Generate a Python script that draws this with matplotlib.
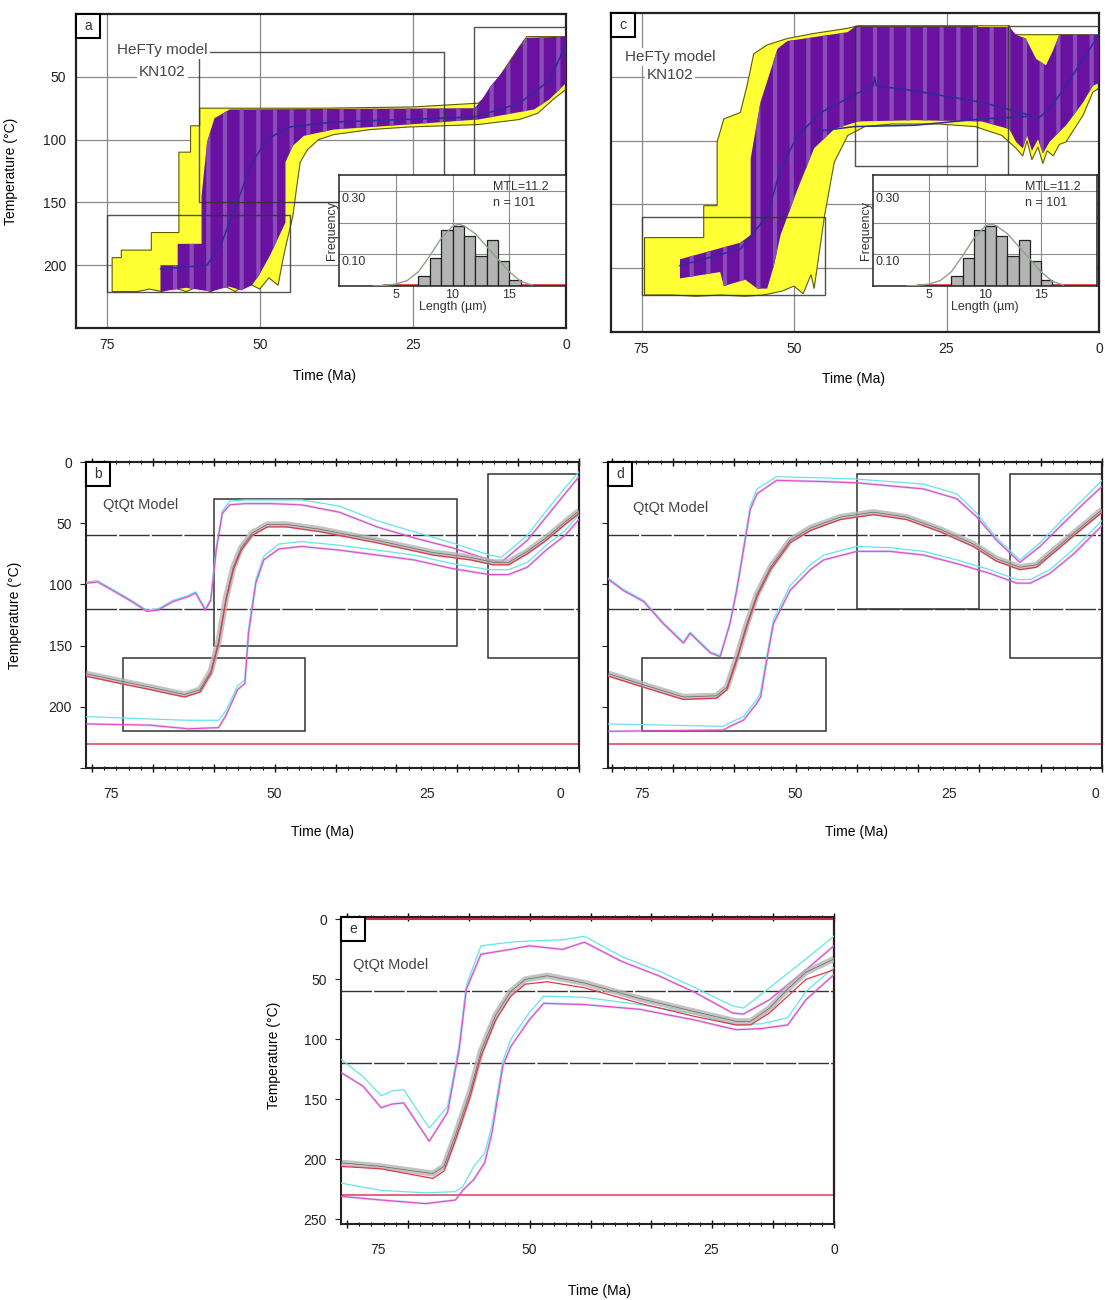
import numpy as np
import matplotlib
matplotlib.use("Agg")
import matplotlib.pyplot as plt
from matplotlib.patches import Rectangle
from matplotlib.ticker import MultipleLocator

plt.rcParams['font.family'] = ['Liberation Sans', 'DejaVu Sans']
plt.rcParams['hatch.linewidth'] = 3.0

# ------------------------------------------------------------------ data
# HeFTy panel a
a_yel_up_t = [74.1, 72.6, 72.6, 67.7, 67.7, 63.2, 63.2, 61.3, 61.3, 59.8, 59.8, 40, 25, 14.3, 12.4, 10.6, 7.6, 6.4, 0]
a_yel_up_T = [194, 194, 188, 188, 174, 174, 110, 110, 89, 89, 75, 75, 74, 71, 63, 48, 26, 18, 18]
a_yel_lo_t = [74.1, 70, 68, 66, 64, 62, 60, 58, 56, 54, 52, 50, 48.5, 47, 46.4, 45.8, 44.6, 44.0, 43.4, 42.2, 40.4, 37.9, 31.9, 25.8, 14.3, 7.6, 4.6, 2.1, 0]
a_yel_lo_T = [221, 221, 219, 221, 218, 221, 217, 221, 216, 221, 214, 219, 210, 216, 200, 186, 161, 139, 118, 108, 100, 96, 92, 90, 88, 84, 79, 68, 60]
a_pur_up_t = [66.2, 63.4, 63.4, 59.5, 59.5, 58.6, 57.4, 54.9, 14.9, 13.7, 12.4, 10.0, 7.6, 6.4, 0]
a_pur_up_T = [200, 200, 183, 183, 145, 102, 83, 76, 75, 68, 58, 44, 26, 19, 18]
a_pur_lo_t = [66.2, 62, 58, 55, 53, 51.3, 50.1, 48.3, 45.8, 45.8, 44.6, 42.8, 37.9, 25.8, 14.3, 5.2, 2.7, 0]
a_pur_lo_T = [221, 218, 221, 217, 220, 216, 208, 192, 166, 118, 105, 97, 92, 88, 84, 76, 68, 55]
a_mean_t = [66.2, 58.6, 56.2, 53.7, 51.3, 48.9, 45.2, 37.9, 14.9, 7.6, 2.7, 0]
a_mean_T = [203, 200, 182, 150, 119, 100, 90, 86, 82, 71, 53, 24]

# HeFTy panel c
c_yel_up_t = [74.5, 64.8, 64.8, 62.6, 62.6, 61.5, 58.8, 57.7, 56.6, 54.4, 51.1, 46.7, 41.2, 39.5, 14.7, 14.2, 0]
c_yel_up_T = [176, 176, 151, 151, 101, 83, 78, 57, 32, 25, 20, 16, 12, 10, 10, 17, 17]
c_yel_lo_t = [74.5, 70, 66, 62, 58, 55, 52, 50, 48.5, 47.2, 46.7, 45.0, 43.4, 41.2, 38.4, 34.0, 26.3, 20.3, 15.9, 13.6, 12.5, 11.8, 11.0, 10.0, 9.2, 8.5, 7.5, 6.5, 5.4, 2.6, 1.0, 0]
c_yel_lo_T = [221, 221, 222, 221, 222, 221, 218, 214, 220, 205, 216, 159, 117, 96, 89, 87, 87, 89, 96, 106, 112, 100, 115, 105, 118, 108, 112, 103, 101, 80, 62, 59]
c_pur_up_t = [68.7, 58.8, 57.1, 57.1, 55.5, 52.7, 51.1, 41.2, 40.1, 14.7, 13.6, 12.0, 10.3, 8.7, 7.6, 6.5, 0]
c_pur_up_T = [193, 180, 174, 114, 70, 28, 22, 15, 11, 11, 17, 20, 36, 41, 30, 17, 17]
c_pur_lo_t = [68.7, 62.1, 61.5, 58, 56, 54.4, 53.3, 52.2, 49.4, 46.7, 43.4, 39.5, 30.2, 19.2, 14.7, 13.6, 12.5, 11.8, 11.0, 10.0, 9.2, 8.1, 5.4, 2.6, 1.0, 0]
c_pur_lo_T = [208, 203, 214, 209, 216, 216, 198, 174, 138, 106, 91, 85, 84, 85, 91, 101, 106, 96, 108, 99, 110, 101, 88, 70, 57, 55]
c_mean_t = [68.7, 58.8, 54.4, 52.2, 49.4, 45.6, 40.1, 37.0, 36.8, 36.5, 30.2, 19.2, 11.4, 10.3, 8.1, 5.4, 2.6, 0]
c_mean_T = [198, 185, 159, 122, 96, 78, 64, 57, 50, 57, 61, 70, 80, 84, 75, 57, 36, 17]
c_mean2_t = [46.7, 40.1, 30.2, 19.2, 11.4]
c_mean2_T = [93, 89, 88, 83, 81]

# track-length histogram (insets a and c)
hist_left = [7, 8, 9, 10, 11, 12, 13, 14, 15]
hist_freq = [0.032, 0.087, 0.177, 0.19, 0.158, 0.095, 0.145, 0.079, 0.019]
fit_len = [3, 4, 5, 6, 7, 8, 9, 10, 10.5, 11, 12, 13, 14, 15, 16, 17]
fit_freq = [0.0, 0.002, 0.006, 0.017, 0.045, 0.095, 0.15, 0.188, 0.195, 0.19, 0.165, 0.125, 0.085, 0.045, 0.015, 0.003]
red_len = [4, 20]
red_freq = [0.003, 0.003]

# HeFTy constraint boxes (t_old, t_young, T_top, T_bottom)
a_boxes = [(75, 45, 160, 221), (60, 20, 30, 150), (15, 0, 10, 160)]
c_boxes = [(75, 45, 160, 221), (40, 20, 10, 120), (15, 0, 10, 160)]

# QtQt panel b
b_mid_t = [81, 75.3, 70.4, 64.8, 62.3, 60.5, 59.2, 58.0, 56.8, 55.5, 53.7, 51.2, 48.1, 42.5, 33.2, 24.0, 17.8, 14.1, 11.6, 8.5, 5.4, 2.3, 0]
b_mid_T = [175, 181, 186, 192, 188, 173, 148, 113, 88, 72, 60, 53, 53, 57, 66, 76, 80, 84, 84, 75, 64, 51, 42]
b_up_t = [80.9, 79.1, 76.6, 73.5, 71.0, 69.2, 66.7, 64.2, 63.0, 61.4, 60.5, 59.6, 58.6, 57.4, 54.9, 50.6, 45.6, 39.4, 33.2, 27.1, 20.9, 14.7, 12.8, 8.5, 5.4, 2.3, 0]
b_up_T = [99, 98, 105, 114, 122, 121, 114, 110, 107, 121, 113, 72, 42, 35, 34, 34, 35, 41, 53, 62, 70, 80, 82, 64, 45, 26, 12]
b_up_c_T = [98, 97, 104, 113, 121, 120, 113, 109, 106, 120, 112, 70, 40, 32, 31, 31, 31, 36, 48, 57, 66, 76, 78, 60, 40, 21, 8]
b_lo_t = [80.9, 70.4, 64.2, 59.2, 58.0, 56.1, 54.9, 54.3, 53.1, 51.8, 49.3, 45.6, 39.4, 33.2, 27.1, 20.9, 14.7, 11.6, 8.5, 5.4, 2.3, 0]
b_lo_T = [214, 215, 218, 217, 207, 186, 181, 140, 99, 80, 71, 69, 72, 76, 80, 87, 92, 92, 86, 72, 60, 47]
b_lo_c_T = [208, 210, 211, 211, 203, 183, 178, 137, 96, 77, 67, 65, 68, 72, 76, 83, 88, 88, 82, 68, 56, 43]
b_boxes = [(75, 45, 160, 220), (60, 20, 30, 150), (15, 0, 10, 160)]

# QtQt panel d
d_mid_t = [80.5, 74.8, 68.3, 62.9, 61.2, 59.6, 58.0, 56.3, 54.1, 50.9, 47.6, 42.7, 37.3, 31.9, 26.4, 21.0, 17.2, 13.4, 10.7, 7.4, 4.1, 0]
d_mid_T = [175, 184, 194, 193, 186, 162, 135, 110, 88, 66, 56, 47, 43, 47, 57, 69, 81, 88, 86, 72, 58, 41]
d_up_t = [80.5, 78.1, 74.8, 71.6, 68.3, 67.2, 63.9, 62.3, 60.7, 59.6, 58.5, 57.4, 56.3, 53.1, 45.4, 40.0, 29.1, 23.7, 20.4, 17.2, 13.4, 10.1, 6.3, 3.0, 0]
d_up_T = [96, 105, 114, 132, 148, 140, 156, 159, 132, 105, 72, 39, 26, 15, 16, 17, 22, 30, 45, 64, 82, 69, 50, 34, 20]
d_up_c_T = [95, 104, 113, 131, 147, 139, 155, 158, 131, 103, 70, 36, 22, 12, 13, 14, 18, 26, 42, 62, 80, 66, 46, 30, 15]
d_lo_t = [80.5, 61.8, 60.7, 58.5, 56.3, 55.7, 54.6, 53.6, 50.9, 47.6, 45.4, 40.0, 34.6, 29.1, 23.7, 18.3, 13.9, 11.7, 8.5, 4.6, 0]
d_lo_T = [220, 219, 216, 211, 197, 192, 159, 132, 105, 88, 80, 73, 73, 76, 83, 91, 99, 99, 91, 75, 52]
d_lo_c_T = [214, 216, 213, 208, 194, 188, 156, 129, 101, 84, 76, 69, 70, 73, 80, 88, 96, 96, 88, 71, 48]
d_boxes = [(75, 45, 160, 220), (40, 20, 10, 120), (15, 0, 10, 160)]

# QtQt panel e
e_mid_t = [80.9, 74.4, 65.9, 64.1, 62.2, 59.8, 58.0, 55.6, 53.1, 50.7, 47.1, 41.0, 31.9, 22.8, 16.1, 13.7, 10.6, 7.6, 4.6, 0]
e_mid_T = [206, 208, 216, 210, 184, 148, 114, 84, 64, 54, 52, 57, 70, 81, 88, 88, 78, 64, 50, 42]
e_mid2_T = [203, 206, 212, 206, 180, 144, 110, 80, 60, 50, 47, 53, 66, 77, 85, 85, 74, 58, 44, 33]
e_up_t = [80.9, 77.4, 74.4, 72.6, 70.7, 66.5, 63.5, 61.6, 60.4, 58.0, 53.1, 50.1, 44.6, 41.0, 34.9, 28.8, 22.8, 16.7, 14.9, 10.6, 4.6, 0]
e_up_T = [128, 139, 157, 154, 153, 185, 161, 109, 58, 29, 25, 22, 25, 19, 35, 47, 61, 78, 79, 67, 42, 22]
e_up_c_T = [117, 131, 147, 143, 142, 174, 156, 105, 55, 22, 19, 18, 17, 14, 31, 43, 57, 72, 74, 57, 33, 14]
e_lo_t = [80.9, 74.4, 67.1, 62.2, 61.0, 59.2, 57.4, 56.2, 54.4, 53.1, 50.1, 47.7, 41.0, 31.9, 22.8, 16.1, 11.9, 7.6, 4.6, 0]
e_lo_T = [231, 234, 237, 234, 226, 217, 203, 178, 122, 106, 84, 70, 71, 75, 84, 92, 91, 88, 67, 46]
e_lo_c_T = [220, 226, 228, 227, 223, 206, 195, 172, 118, 100, 78, 64, 65, 71, 79, 88, 87, 82, 60, 40]

paz_T = [60, 120]          # partial annealing zone limits
model_T_max = 230          # QtQt model bounds (red)
time_labels = [75, 50, 25, 0]

# ------------------------------------------------------------------ figure
W, H = 1105, 1300
fig = plt.figure(figsize=(W / 100, H / 100), dpi=100)


def px_axes(l, t, r, b):
    return fig.add_axes([l / W, 1 - b / H, (r - l) / W, (b - t) / H])


def letter_box(ax, letter, wpx=24, hpx=24):
    bb = ax.get_position()
    w = wpx / (bb.width * W)
    h = hpx / (bb.height * H)
    ax.add_patch(Rectangle((0, 1 - h), w, h, transform=ax.transAxes, fc='white',
                           ec='black', lw=1.5, zorder=10, clip_on=False))
    ax.text(w / 2, 1 - h / 2, letter, transform=ax.transAxes, ha='center', va='center',
            fontsize=10, color='#333333', zorder=11)


def poly(up_t, up_T, lo_t, lo_T):
    return np.r_[up_t, lo_t[::-1]], np.r_[up_T, lo_T[::-1]]


def hefty(ax, yel_up, yel_lo, pur_up, pur_lo, means, boxes, letter, txt_xy, ylabels):
    ax.set_xlim(80, 0)
    ax.set_ylim(250, 0)
    for t in [75, 50, 25]:
        ax.axvline(t, color='#8a8a8a', lw=0.9, zorder=1)
    for T in [50, 100, 150, 200]:
        ax.axhline(T, color='#8a8a8a', lw=0.9, zorder=1)
    xs, ys = poly(*yel_up, *yel_lo)
    ax.fill(xs, ys, fc='#ffff33', ec='#5c5c00', lw=0.8, zorder=2)
    xs, ys = poly(*pur_up, *pur_lo)
    ax.fill(xs, ys, fc='#6a12a0', ec='none', lw=0, zorder=3)
    ax.fill(xs, ys, fc='none', ec='#8a4cb6', hatch='|', lw=0, zorder=3.1)
    for mt, mT in means:
        ax.plot(mt, mT, color='#2c2c9c', lw=1.1, zorder=4)
    for t0, t1, T0, T1 in boxes:
        ax.add_patch(Rectangle((t1, T0), t0 - t1, T1 - T0, fill=False, ec='#333333',
                               lw=1.0, zorder=4.5, alpha=0.85))
    ax.text(*txt_xy[0], 'HeFTy model', transform=ax.transAxes, ha='center', va='center',
            fontsize=11, color='#444444', zorder=6,
            bbox=dict(fc='white', ec='none', pad=1.5))
    ax.text(*txt_xy[1], 'KN102', transform=ax.transAxes, ha='center', va='center',
            fontsize=11, color='#444444', zorder=6,
            bbox=dict(fc='white', ec='none', pad=1.5))
    ax.set_xticks(time_labels)
    ax.set_yticks([50, 100, 150, 200])
    ax.tick_params(length=0, labelsize=10, pad=7, colors='#222222')
    if not ylabels:
        ax.set_yticklabels([])
    for s in ax.spines.values():
        s.set_linewidth(1.6)
        s.set_color('#222222')
    letter_box(ax, letter)


def inset(ax):
    ax.set_xlim(0, 20)
    ax.set_ylim(0, 0.35)
    for x in [5, 10, 15]:
        ax.axvline(x, color='#8a8a8a', lw=0.8, zorder=0)
    for y in [0.1, 0.2, 0.3]:
        ax.axhline(y, color='#8a8a8a', lw=0.8, zorder=0)
    ax.bar(hist_left, hist_freq, width=1, align='edge', color='#b4b4b4',
           edgecolor='#222222', lw=0.9, zorder=2)
    ax.plot(fit_len, fit_freq, color='#8fa08f', lw=1.0, zorder=3)
    ax.plot(red_len, red_freq, color='#e03030', lw=1.2, zorder=1.5)
    ax.set_xticks([5, 10, 15])
    ax.set_yticks([])
    ax.tick_params(length=0, labelsize=9, pad=2, colors='#333333')
    for yv, lab in [(0.3, '0.30'), (0.1, '0.10')]:
        ax.text(0.01, yv - 0.006, lab, transform=ax.get_yaxis_transform(),
                ha='left', va='top', fontsize=9, color='#333333')
    ax.text(0.68, 0.89, 'MTL=11.2', transform=ax.transAxes, ha='left', va='center',
            fontsize=9, color='#333333')
    ax.text(0.68, 0.75, 'n = 101', transform=ax.transAxes, ha='left', va='center',
            fontsize=9, color='#333333')
    ax.set_xlabel('Length (µm)', fontsize=9, labelpad=0, color='#333333')
    ax.set_ylabel('Frequency', fontsize=9, labelpad=1, color='#333333')
    ax.patch.set_facecolor('white')
    for s in ax.spines.values():
        s.set_linewidth(1.1)
        s.set_color('#222222')


def line_pair(ax, t, T_mag, T_cyan):
    ax.plot(t, T_mag, color='#8080f0', lw=1.8, alpha=0.35, zorder=3)
    ax.plot(t, T_cyan, color='#66e4ec', lw=0.9, zorder=3.2)
    ax.plot(t, T_mag, color='#ec48c4', lw=0.8, zorder=3.4)


def qtqt(ax, xl, mid, mid2, up, lo, boxes, letter, txt_xy, ylab_list,
         ylim=(250, 0), lab_shift=None):
    lab_shift = lab_shift or {}
    ax.set_xlim(*xl)
    ax.set_ylim(*ylim)
    for T in paz_T:
        ax.axhline(T, color='#333333', lw=1.0, ls=(0, (22, 1.5)), zorder=2)
    ax.plot([xl[0], 0], [0, 0], color='#cc2a4a', lw=1.5, zorder=2, clip_on=False)
    ax.plot([xl[0], 0], [model_T_max, model_T_max], color='#dd3a5a', lw=1.1, zorder=2)
    ax.plot([0, 0], [0, model_T_max], color='#cc2a4a', lw=1.6, zorder=2, clip_on=False)
    for t0, t1, T0, T1 in boxes:
        ax.add_patch(Rectangle((t1, T0), t0 - t1, T1 - T0, fill=False, ec='#333333',
                               lw=1.1, zorder=2.5))
    line_pair(ax, up[0], up[1], up[2])
    line_pair(ax, lo[0], lo[1], lo[2])
    ax.plot(mid[0], mid2, color='#b4b4b4', lw=4.5, alpha=0.8, zorder=3.6,
            solid_capstyle='butt')
    ax.plot(mid[0], mid2, color='#666666', lw=0.5, zorder=3.8)
    ax.plot(mid[0], mid[1], color='#e03848', lw=0.9, zorder=3.9)
    ax.text(*txt_xy, 'QtQt Model', transform=ax.transAxes, ha='left', va='center',
            fontsize=10.5, color='#444444', zorder=6)
    ax.set_xticks(np.arange(0, 81, 10))
    ax.xaxis.set_minor_locator(MultipleLocator(2))
    ax.tick_params(axis='x', which='major', direction='inout', length=6, width=1,
                   top=True, bottom=True, labelbottom=False)
    ax.tick_params(axis='x', which='minor', direction='inout', length=3, width=0.8,
                   top=True, bottom=True)
    for lab in time_labels:
        ax.annotate(str(lab), xy=(lab, 0), xycoords=('data', 'axes fraction'),
                    xytext=(lab_shift.get(lab, 0), -19), textcoords='offset points',
                    ha='center', va='center', fontsize=10, color='#222222',
                    annotation_clip=False)
    ax.set_yticks([0, 50, 100, 150, 200, 250])
    ax.set_yticklabels(ylab_list)
    ax.tick_params(axis='y', direction='out', length=4, labelsize=10, pad=6,
                   colors='#222222')
    for s in ax.spines.values():
        s.set_linewidth(1.5)
        s.set_color('#222222')
    letter_box(ax, letter)


# ---- panel a
ax_a = px_axes(76, 14, 566, 328)
hefty(ax_a, (a_yel_up_t, a_yel_up_T), (a_yel_lo_t, a_yel_lo_T),
      (a_pur_up_t, a_pur_up_T), (a_pur_lo_t, a_pur_lo_T),
      [(a_mean_t, a_mean_T)], a_boxes, 'a',
      [(0.176, 0.885), (0.176, 0.815)], True)
ax_a.set_ylabel('Temperature (°C)', fontsize=10)
ax_a.yaxis.set_label_coords(-0.118, 0.5)
ax_a.set_xlabel('Time (Ma)', fontsize=10)
ax_a.xaxis.set_label_coords(0.508, -0.13)
ins_a = px_axes(339, 175, 566, 286)
inset(ins_a)

# ---- panel c
ax_c = px_axes(611, 13, 1099, 332)
hefty(ax_c, (c_yel_up_t, c_yel_up_T), (c_yel_lo_t, c_yel_lo_T),
      (c_pur_up_t, c_pur_up_T), (c_pur_lo_t, c_pur_lo_T),
      [(c_mean_t, c_mean_T), (c_mean2_t, c_mean2_T)], c_boxes, 'c',
      [(0.121, 0.862), (0.121, 0.806)], False)
ax_c.set_xlabel('Time (Ma)', fontsize=10)
ax_c.xaxis.set_label_coords(0.496, -0.125)
ins_c = px_axes(873, 175, 1097, 286)
inset(ins_c)

# ---- panel b
ax_b = px_axes(86, 462, 579, 768)
qtqt(ax_b, (81, 0), (b_mid_t, b_mid_T), np.array(b_mid_T) - 2,
     (b_up_t, b_up_T, b_up_c_T), (b_lo_t, b_lo_T, b_lo_c_T), b_boxes, 'b',
     (0.035, 0.86), ['0', '50', '100', '150', '200', ''],
     lab_shift={75: -8.5, 0: -13.5})
ax_b.set_ylabel('Temperature (°C)', fontsize=10)
ax_b.yaxis.set_label_coords(-0.13, 0.5)
ax_b.set_xlabel('Time (Ma)', fontsize=10)
ax_b.xaxis.set_label_coords(0.479, -0.185)

# ---- panel d
ax_d = px_axes(608, 462, 1102, 768)
qtqt(ax_d, (80.6, 0), (d_mid_t, d_mid_T), np.array(d_mid_T) - 2,
     (d_up_t, d_up_T, d_up_c_T), (d_lo_t, d_lo_T, d_lo_c_T), d_boxes, 'd',
     (0.05, 0.85), [''] * 6, lab_shift={0: -5})
ax_d.set_xlabel('Time (Ma)', fontsize=10)
ax_d.xaxis.set_label_coords(0.504, -0.185)

# ---- panel e
ax_e = px_axes(341, 917, 834, 1224)
qtqt(ax_e, (81, 0), (e_mid_t, e_mid_T), e_mid2_T,
     (e_up_t, e_up_T, e_up_c_T), (e_lo_t, e_lo_T, e_lo_c_T), [], 'e',
     (0.024, 0.844), ['0', '50', '100', '150', '200', '250'], ylim=(254, -2),
     lab_shift={25: 21})
ax_e.set_ylabel('Temperature (°C)', fontsize=10)
ax_e.yaxis.set_label_coords(-0.122, 0.55)
ax_e.set_xlabel('Time (Ma)', fontsize=10)
ax_e.xaxis.set_label_coords(0.525, -0.195)

fig.savefig('out.png', dpi=100)
